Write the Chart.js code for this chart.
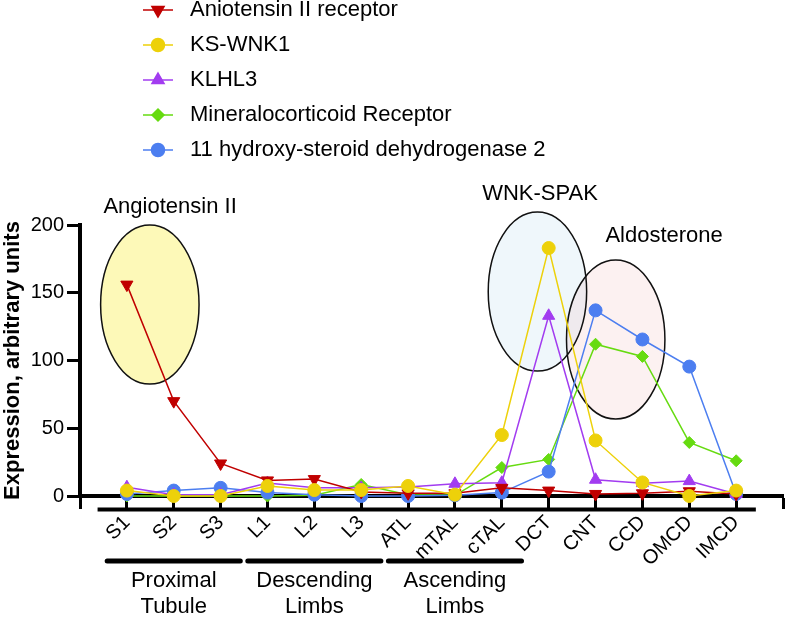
<!DOCTYPE html>
<html>
<head>
<meta charset="utf-8">
<title>Expression along the nephron</title>
<script src="https://cdn.jsdelivr.net/npm/chart.js@4.4.1/dist/chart.umd.min.js"></script>
<style>
  html, body { margin: 0; padding: 0; background: #fff; }
  #wrap { width: 802px; height: 617px; }
</style>
</head>
<body>
<div id="wrap"><canvas id="grafico" width="802" height="617"></canvas></div>
<script>
// --- dados ---
const segmentos = ['S1', 'S2', 'S3', 'L1', 'L2', 'L3', 'ATL', 'mTAL', 'cTAL', 'DCT', 'CNT', 'CCD', 'OMCD', 'IMCD'];
const at1r   = [156, 70, 24, 11.5, 12.5, 3, 2, 2, 6, 4, 1.5, 2, 3.5, 1.5];
const ksWnk1 = [4, 0, 0, 7.4, 4.4, 4.4, 7.4, 1, 45, 183, 41, 10, 0, 4];
const klhl3  = [6.5, 1, 1, 9.6, 6, 6, 6.6, 9, 9.8, 133, 12, 9.5, 11, 1.5];
const mr     = [0, 0, 0, 0, 0.5, 8.5, 1, 0.5, 21, 27, 112, 103, 39.5, 26];
const hsd2   = [1.5, 4, 6, 2.5, 1, 0, 0, 0.5, 2.5, 18, 137, 115.5, 95.5, 1.5];
const yTicks = [0, 50, 100, 150, 200];
const grupos = [['Proximal', 'Tubule'], ['Descending', 'Limbs'], ['Ascending', 'Limbs']];
const gruposInicio = [0, 3, 6];
const gruposFim = [2, 5, 8];

// ticks do eixo x: uma posicao vazia antes e depois das categorias
const xTicks = [-1, ...segmentos.map((_, i) => i), segmentos.length];

// elipses e textos de destaque (em unidades dos eixos)
const destaques = [
  { texto: 'Angiotensin II', tx: -0.5, ty: 209, cx: 0.49, cy: 141.3, rx: 1.05, ry: 58.7, fill: 'rgba(252, 246, 140, 0.62)' },
  { texto: 'WNK-SPAK', tx: 7.58, ty: 218.5, cx: 8.76, cy: 150.9, rx: 1.05, ry: 58.7, fill: 'rgba(190, 225, 240, 0.25)' },
  { texto: 'Aldosterone', tx: 10.21, ty: 187.5, cx: 10.43, cy: 115.5, rx: 1.05, ry: 58.7, fill: 'rgba(240, 185, 185, 0.2)' }
];

const fonte = "'Liberation Sans', Arial, Helvetica, sans-serif";
Chart.defaults.font.family = fonte;
Chart.defaults.color = '#000';

const series = [
  { label: 'Aniotensin II receptor', valores: at1r, cor: '#C00000', estilo: 'triangle', rot: 180, raio: 7, ordem: 1 },
  { label: 'KS-WNK1', valores: ksWnk1, cor: '#EDD10A', estilo: 'circle', rot: 0, raio: 6.5, ordem: 0 },
  { label: 'KLHL3', valores: klhl3, cor: '#A23CF0', estilo: 'triangle', rot: 0, raio: 7, ordem: 2 },
  { label: 'Mineralocorticoid Receptor', valores: mr, cor: '#66DB10', estilo: 'rectRot', rot: 0, raio: 6, ordem: 4 },
  { label: '11 hydroxy-steroid dehydrogenase 2', valores: hsd2, cor: '#4C7EF0', estilo: 'circle', rot: 0, raio: 6.5, ordem: 3 }
];

// icone da legenda: linha + marcador
function criaIcone(s) {
  const c = document.createElement('canvas');
  c.width = 34; c.height = 18;
  const g = c.getContext('2d');
  g.strokeStyle = s.cor; g.fillStyle = s.cor; g.lineWidth = 1.5;
  g.beginPath(); g.moveTo(2, 9); g.lineTo(32, 9); g.stroke();
  if (Chart.helpers && Chart.helpers.drawPoint) {
    Chart.helpers.drawPoint(g, { pointStyle: s.estilo, rotation: s.rot, radius: s.raio, borderWidth: 1 }, 17, 9);
  } else {
    g.beginPath(); g.arc(17, 9, s.raio, 0, Math.PI * 2); g.fill();
  }
  return c;
}
const icones = series.map(criaIcone);

// legenda empilhada no canto superior esquerdo
const legendaVertical = {
  id: 'legendaVertical',
  afterLayout(chart) {
    const lg = chart.legend;
    if (!lg) return;
    lg.left = 124; lg.right = 760;
    lg.top = -14; lg.bottom = 200;
    lg.width = lg.right - lg.left;
    lg.height = lg.bottom - lg.top;
  }
};

const extras = {
  id: 'extras',
  beforeDatasetsDraw(chart) {
    const { ctx, scales: { x, y } } = chart;
    ctx.save();
    const elips = destaques.map(d => {
      const cx = x.getPixelForValue(d.cx), cy = y.getPixelForValue(d.cy);
      return {
        cx, cy,
        rx: Math.abs(x.getPixelForValue(d.cx + d.rx) - cx),
        ry: Math.abs(y.getPixelForValue(d.cy + d.ry) - cy),
        fill: d.fill
      };
    });
    elips.forEach(e => {
      ctx.beginPath();
      ctx.ellipse(e.cx, e.cy, e.rx, e.ry, 0, 0, Math.PI * 2);
      ctx.fillStyle = e.fill;
      ctx.fill();
    });
    ctx.lineWidth = 1.5;
    ctx.strokeStyle = '#111';
    elips.forEach(e => {
      ctx.beginPath();
      ctx.ellipse(e.cx, e.cy, e.rx, e.ry, 0, 0, Math.PI * 2);
      ctx.stroke();
    });
    ctx.restore();
  },
  afterDraw(chart) {
    const { ctx, scales: { x, y } } = chart;
    const base = x.top;
    ctx.save();
    ctx.strokeStyle = '#000';
    ctx.fillStyle = '#000';

    // segunda linha do eixo x
    ctx.lineWidth = 4;
    ctx.beginPath();
    ctx.moveTo(x.getPixelForValue(-0.625), base + 13.5);
    ctx.lineTo(x.getPixelForValue(13.42), base + 13.5);
    ctx.stroke();

    // grupos de segmentos
    ctx.lineWidth = 5;
    ctx.lineCap = 'round';
    ctx.font = '22px ' + fonte;
    ctx.textAlign = 'center';
    ctx.textBaseline = 'alphabetic';
    grupos.forEach((linhas, i) => {
      const x1 = x.getPixelForValue(gruposInicio[i] - 0.42);
      const x2 = x.getPixelForValue(gruposFim[i] + 0.42);
      ctx.beginPath();
      ctx.moveTo(x1, base + 65);
      ctx.lineTo(x2, base + 65);
      ctx.stroke();
      const meio = x.getPixelForValue((gruposInicio[i] + gruposFim[i]) / 2);
      linhas.forEach((t, k) => ctx.fillText(t, meio, base + 91 + k * 26));
    });

    // textos dos destaques
    ctx.textAlign = 'left';
    destaques.forEach(d => {
      ctx.fillText(d.texto, x.getPixelForValue(d.tx), y.getPixelForValue(d.ty));
    });
    ctx.restore();
  }
};

const eixoComum = {
  grid: { drawOnChartArea: false, drawTicks: true, tickLength: 13, tickWidth: 3, tickColor: '#000', color: '#000' },
  border: { display: true, color: '#000', width: 4 }
};

const ctx = document.getElementById('grafico').getContext('2d');
new Chart(ctx, {
  type: 'line',
  data: {
    datasets: series.map(s => ({
      label: s.label,
      data: s.valores.map((v, i) => ({ x: i, y: v })),
      borderColor: s.cor,
      backgroundColor: s.cor,
      borderWidth: 1.5,
      pointStyle: s.estilo,
      pointRotation: s.rot,
      pointRadius: s.raio,
      pointBorderWidth: 1,
      pointBorderColor: s.cor,
      pointBackgroundColor: s.cor,
      tension: 0,
      fill: false,
      clip: false,
      order: s.ordem
    }))
  },
  options: {
    responsive: false,
    animation: false,
    events: [],
    layout: { padding: { top: 225, right: 2, left: 0, bottom: 0 } },
    plugins: {
      tooltip: { enabled: false },
      legend: {
        position: 'chartArea',
        align: 'start',
        labels: {
          usePointStyle: true,
          pointStyleWidth: 42,
          padding: 13,
          color: '#000',
          font: { size: 22 },
          sort: (a, b) => a.datasetIndex - b.datasetIndex,
          generateLabels(chart) {
            const itens = Chart.defaults.plugins.legend.labels.generateLabels(chart);
            // o icone ja vem desenhado na orientacao certa
            itens.forEach(it => { it.pointStyle = icones[it.datasetIndex]; it.rotation = 0; });
            return itens;
          }
        }
      }
    },
    scales: {
      x: {
        type: 'linear',
        min: -1,
        max: segmentos.length,
        ...eixoComum,
        afterBuildTicks: s => { s.ticks = xTicks.map(v => ({ value: v })); },
        afterFit: s => { s.height = 121; },
        ticks: {
          autoSkip: false,
          minRotation: 45,
          maxRotation: 45,
          padding: 2,
          color: '#000',
          font: { size: 20 },
          callback: v => segmentos[v] ?? ''
        }
      },
      y: {
        min: 0,
        max: 200,
        ...eixoComum,
        afterBuildTicks: s => { s.ticks = yTicks.map(v => ({ value: v })); },
        afterFit: s => { s.width = 80; },
        ticks: { padding: 3, color: '#000', font: { size: 20 } },
        title: {
          display: true,
          text: 'Expression, arbitrary units',
          color: '#000',
          font: { size: 22, weight: 'bold' },
          padding: { top: 0, bottom: 0 }
        }
      }
    }
  },
  plugins: [legendaVertical, extras]
});
</script>
</body>
</html>
